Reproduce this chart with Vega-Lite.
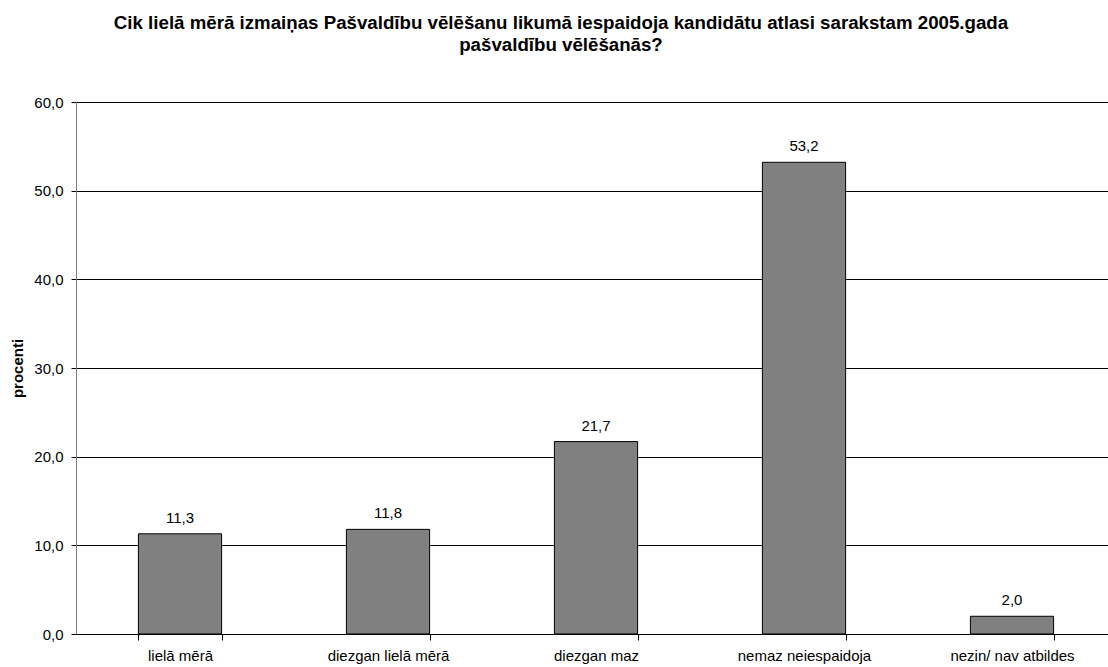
{
  "$schema": "https://vega.github.io/schema/vega-lite/v6.json",
  "width": 1032,
  "height": 532,
  "autosize": {"type": "none"},
  "padding": {"left": 76, "top": 102, "right": 0, "bottom": 33},
  "background": "white",
  "config": {
    "locale": {"number": {"decimal": ",", "thousands": " ", "grouping": [3], "currency": ["", ""]}},
    "view": {"stroke": null},
    "font": "Liberation Sans"
  },
  "title": {
    "text": ["Cik lielā mērā izmaiņas Pašvaldību vēlēšanu likumā iespaidoja kandidātu atlasi sarakstam 2005.gada", "pašvaldību vēlēšanās?"],
    "font": "Liberation Sans",
    "fontSize": 18.7,
    "fontWeight": "bold",
    "color": "black",
    "anchor": "middle",
    "dx": -31,
    "offset": 40,
    "lineHeight": 22
  },
  "data": {
    "values": [
      {"atbilde": "lielā mērā", "procenti": 11.3},
      {"atbilde": "diezgan lielā mērā", "procenti": 11.8},
      {"atbilde": "diezgan maz", "procenti": 21.7},
      {"atbilde": "nemaz neiespaidoja", "procenti": 53.2},
      {"atbilde": "nezin/ nav atbildes", "procenti": 2.0}
    ]
  },
  "encoding": {
    "x": {
      "field": "atbilde",
      "type": "nominal",
      "sort": null,
      "scale": {"type": "band", "range": [0, 1040], "paddingInner": 0.6, "paddingOuter": 0.3},
      "axis": {
        "title": null,
        "labelAngle": 0,
        "labelFontSize": 15,
        "labelColor": "black",
        "labelFont": "Liberation Sans",
        "labelPadding": 8,
        "tickBand": "extent",
        "tickColor": "black",
        "tickSize": 6,
        "domain": true,
        "domainColor": "black",
        "grid": false
      }
    },
    "y": {
      "field": "procenti",
      "type": "quantitative",
      "scale": {"domain": [0, 60], "nice": false},
      "axis": {
        "title": "procenti",
        "titleFont": "Liberation Sans",
        "titleFontSize": 15,
        "titleFontWeight": "bold",
        "titleColor": "black",
        "titlePadding": 8,
        "values": [0, 10, 20, 30, 40, 50, 60],
        "format": ".1f",
        "labelFontSize": 15,
        "labelColor": "black",
        "labelFont": "Liberation Sans",
        "labelPadding": 8,
        "tickColor": "black",
        "tickSize": 5,
        "domainColor": "#808080",
        "grid": true,
        "gridColor": "black",
        "gridOpacity": 1
      }
    }
  },
  "layer": [
    {
      "mark": {"type": "bar", "fill": "#808080", "stroke": "black", "strokeWidth": 1}
    },
    {
      "mark": {"type": "text", "baseline": "alphabetic", "dy": -11, "fontSize": 15, "color": "black", "font": "Liberation Sans"},
      "encoding": {
        "text": {"field": "procenti", "type": "quantitative", "format": ".1f"}
      }
    }
  ]
}
